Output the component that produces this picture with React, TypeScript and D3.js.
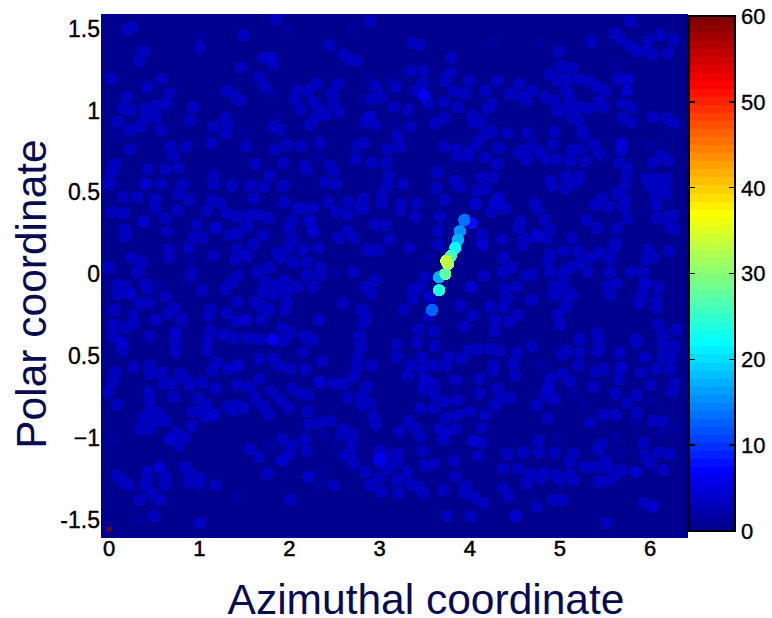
import React from 'react';
import * as d3 from 'd3';

// tick labels as printed on the figure (the lower 0.5 has lost its minus sign)
const xTicks = [0, 1, 2, 3, 4, 5, 6];
const yTicks = [1.5, 1, 0.5, 0, -0.5, -1, -1.5];
const yTickLabels = ['1.5', '1', '0.5', '0', '0.5', '\u22121', '-1.5'];
const colorTicks = [0, 10, 20, 30, 40, 50, 60];

// [azimuth, polar] of the spots, grouped by how many counts they hold
const faintCount = 1.5;
const faintSpots = [
  [1.00, 1.44], [1.52, 0.85], [1.86, 0.96], [1.80, 1.10], [0.09, 0.85], [1.97, 1.48], [2.70, 1.50], [3.11, 1.19],
  [2.89, 1.19], [2.82, 1.07], [3.17, 0.90], [2.32, 0.72], [4.76, 1.41], [4.25, 1.42], [5.63, 1.28], [6.02, 0.78],
  [5.50, 0.70], [0.90, 0.08], [0.86, -0.04], [0.55, -0.08], [2.52, 0.01], [3.54, 0.10], [0.05, -1.01], [1.77, -1.05],
  [1.42, -1.36], [0.34, -1.50], [2.38, -0.99], [2.49, -1.05], [2.34, -1.21], [2.34, -1.29], [4.80, -0.56], [5.15, -0.74],
  [5.26, -0.80], [6.02, -0.77], [5.85, -0.90], [6.26, -0.95], [6.11, -0.97], [4.98, -1.00], [5.61, -1.00], [5.68, -1.10],
];

const dimCount = 3;
const dimSpots = [
  [0.20, 1.49], [0.26, 1.51], [0.38, 1.36], [0.33, 1.30], [0.02, 1.19], [0.42, 1.14], [0.58, 1.19], [0.67, 1.10],
  [0.20, 1.08], [0.16, 1.01], [0.23, 1.00], [0.09, 0.93], [0.23, 0.88], [0.34, 0.90], [0.40, 1.01], [0.53, 1.03],
  [0.63, 1.04], [0.40, 0.95], [0.51, 0.96], [0.57, 0.88], [0.93, 1.02], [0.90, 0.94], [1.01, 1.38], [1.49, 1.46],
  [1.46, 1.26], [1.71, 1.32], [1.82, 1.28], [1.67, 1.20], [1.73, 1.14], [1.30, 1.12], [1.39, 1.09], [1.45, 1.06],
  [1.29, 0.95], [1.16, 0.90], [1.32, 0.90], [1.29, 0.86], [0.68, 0.78], [0.85, 0.78], [1.13, 0.80], [1.52, 0.78],
  [1.84, 0.76], [1.97, 0.79], [1.82, 0.90], [1.90, 0.88], [0.23, 0.76], [0.71, 0.72], [1.85, 1.56],
  [2.89, 1.54], [2.44, 1.40], [2.60, 1.34], [2.67, 1.31], [2.74, 1.30], [3.37, 1.41], [3.44, 1.40], [3.79, 1.32],
  [3.34, 1.24], [3.48, 1.24], [3.78, 1.23], [3.72, 1.18], [3.99, 1.18], [3.48, 1.16], [2.54, 1.16], [2.30, 1.16],
  [2.08, 1.12], [2.21, 1.12], [2.47, 1.10], [2.06, 1.07], [2.26, 1.05], [2.48, 1.04], [3.18, 1.14], [2.96, 1.14],
  [3.02, 1.08], [2.91, 1.07], [3.41, 1.12], [3.54, 1.04], [3.71, 1.05], [3.82, 1.12], [3.95, 1.10], [4.17, 1.12],
  [3.87, 1.02], [3.15, 1.02], [3.32, 1.00], [2.55, 0.99], [2.12, 1.00], [2.34, 1.00], [2.40, 0.97], [2.28, 0.95],
  [2.84, 0.93], [2.95, 0.91], [2.23, 0.91], [3.72, 0.95], [3.61, 0.92], [3.34, 0.90], [4.03, 0.97], [4.19, 1.01],
  [4.04, 0.93], [4.13, 0.93], [3.20, 0.84], [3.23, 0.78], [2.34, 0.80], [2.13, 0.78], [2.75, 0.78], [2.82, 0.80],
  [2.73, 0.70], [2.91, 0.68], [3.07, 0.68], [3.09, 0.76], [3.71, 0.78], [3.85, 0.76], [3.86, 0.72], [4.00, 0.75],
  [3.98, 0.72], [4.09, 0.80], [4.15, 0.85], [4.17, 0.71], [2.17, 0.66], [2.45, 0.66],
  [5.78, 1.54], [5.61, 1.47], [5.68, 1.43], [5.78, 1.39], [5.85, 1.36], [5.96, 1.36], [6.03, 1.34], [5.98, 1.42],
  [6.11, 1.46], [6.25, 1.43], [6.20, 1.35], [5.35, 1.42], [4.99, 1.36], [5.01, 1.27], [5.13, 1.26], [4.89, 1.22],
  [5.06, 1.19], [4.98, 1.18], [5.20, 1.19], [5.33, 1.18], [5.41, 1.14], [5.50, 1.12], [5.07, 1.12], [5.64, 1.19],
  [4.30, 1.18], [4.55, 1.16], [4.69, 1.12], [4.45, 1.10], [4.58, 1.08], [4.63, 1.06], [4.83, 1.08], [4.94, 1.06],
  [5.11, 1.08], [5.44, 1.06], [5.48, 1.02], [5.33, 1.01], [5.22, 1.02], [5.09, 1.02], [4.98, 0.99], [5.13, 0.96],
  [5.20, 0.94], [5.70, 1.04], [5.79, 1.02], [5.70, 0.95], [5.79, 0.93], [6.03, 0.96], [6.18, 0.95], [6.26, 0.92],
  [4.24, 1.04], [5.25, 0.88], [5.26, 0.85], [4.94, 0.87], [4.92, 0.79], [5.37, 0.79], [5.43, 0.74], [4.42, 0.86],
  [4.64, 0.86], [4.25, 0.87], [4.32, 0.77], [4.69, 0.78], [4.59, 0.75], [4.54, 0.74], [4.63, 0.70], [4.78, 0.74],
  [4.83, 0.70], [4.96, 0.70], [5.13, 0.75], [5.21, 0.76], [5.28, 0.69], [5.11, 0.69], [5.65, 0.68], [5.74, 0.65],
  [6.13, 0.72], [6.03, 0.68], [6.20, 0.69], [4.30, 0.67],
  [4.89, 0.57], [4.91, 0.54], [5.07, 0.60], [5.11, 0.55], [5.06, 0.52], [5.22, 0.60], [5.18, 0.56], [5.74, 0.60],
  [5.72, 0.54], [5.96, 0.58], [6.07, 0.58], [6.18, 0.58], [6.02, 0.53], [6.15, 0.53], [6.05, 0.48], [6.18, 0.49],
  [6.07, 0.42], [5.63, 0.49], [5.72, 0.46], [5.46, 0.46], [5.39, 0.42], [5.54, 0.41], [5.70, 0.41], [5.74, 0.34],
  [4.72, 0.43], [4.75, 0.40], [4.83, 0.33], [4.89, 0.27], [4.85, 0.22], [5.29, 0.33], [5.41, 0.28], [5.63, 0.28],
  [6.07, 0.34], [6.20, 0.35], [6.25, 0.36], [6.22, 0.30], [6.26, 0.27], [5.13, 0.22], [5.62, 0.19], [5.59, 0.15],
  [4.89, 0.12], [5.04, 0.14], [5.20, 0.14], [5.43, 0.13], [5.33, 0.10], [5.22, 0.07], [5.11, 0.04], [4.87, 0.07],
  [4.89, 0.01], [5.04, 0.01], [5.30, 0.01], [5.55, 0.09], [5.55, 0.01], [5.79, 0.01], [5.93, 0.01], [5.98, 0.15],
  [6.03, 0.10], [5.96, 0.09], [6.21, 0.14], [6.09, -0.08], [5.62, -0.06], [5.52, -0.08], [5.55, -0.13], [5.04, -0.02],
  [5.04, -0.08], [4.94, -0.08], [4.93, -0.13], [5.06, -0.13], [5.13, -0.13], [5.91, -0.13], [5.88, -0.18], [6.07, -0.16],
  [6.07, -0.21], [5.07, -0.20], [4.98, -0.25], [5.00, -0.31], [6.09, -0.31], [6.29, -0.34], [6.14, -0.38], [5.41, -0.36],
  [5.43, -0.40], [5.22, -0.40], [5.84, -0.40], [5.85, -0.42], [6.14, -0.44], [6.26, -0.44], [5.22, -0.48], [5.43, -0.46],
  [5.66, -0.48], [5.07, -0.47], [4.69, -0.44], [5.94, -0.51], [6.14, -0.51], [4.69, 0.00], [4.69, -0.16],
  [0.07, 0.67], [0.03, 0.62], [0.00, 0.55], [0.43, 0.64], [0.62, 0.64], [0.77, 0.65], [0.58, 0.55], [0.82, 0.55],
  [0.77, 0.49], [0.89, 0.45], [0.51, 0.46], [0.51, 0.40], [0.31, 0.47], [0.15, 0.47], [0.03, 0.38], [0.16, 0.37],
  [0.62, 0.34], [0.76, 0.39], [0.64, 0.26], [0.18, 0.27], [0.18, 0.23], [1.16, 0.60], [1.16, 0.55], [1.36, 0.54],
  [1.14, 0.45], [1.23, 0.43], [1.08, 0.39], [1.31, 0.37], [1.42, 0.35], [1.56, 0.36], [1.67, 0.36], [1.77, 0.34],
  [1.60, 0.46], [1.71, 0.53], [1.78, 0.60], [1.93, 0.54], [1.93, 0.68], [1.62, 0.67], [1.56, 0.54], [1.94, 0.44],
  [2.08, 0.40], [2.03, 0.32], [1.99, 0.28], [0.97, 0.30], [1.03, 0.22], [0.94, 0.22], [0.88, 0.16], [1.34, 0.24],
  [1.43, 0.25], [1.53, 0.29], [1.71, 0.24], [1.60, 0.18], [0.66, 0.15], [0.66, 0.10], [1.16, 0.11], [1.43, 0.15],
  [1.53, 0.11], [1.40, 0.09], [0.25, 0.10], [0.36, 0.07], [0.31, 0.01], [0.00, 0.04], [0.92, 0.00], [1.43, -0.01],
  [1.36, -0.05], [1.29, -0.09], [1.03, -0.10], [1.64, 0.01], [1.78, 0.04], [1.73, -0.05], [1.86, 0.13], [1.90, 0.10],
  [2.03, 0.21], [1.99, 0.16], [2.04, 0.07], [1.95, -0.04], [1.86, -0.07], [1.71, -0.11], [1.82, -0.13], [1.97, -0.10],
  [2.08, -0.08], [0.10, -0.07], [0.18, -0.08], [0.09, -0.12], [0.40, -0.06], [0.42, -0.09], [0.63, -0.14], [0.34, -0.18],
  [0.44, -0.18], [0.05, -0.22], [0.27, -0.25], [0.51, -0.28], [0.27, -0.30], [0.05, -0.31], [0.18, -0.33], [0.73, -0.21],
  [0.66, -0.24], [0.81, -0.28], [1.12, -0.22], [1.10, -0.26], [1.30, -0.24], [1.42, -0.17], [1.40, -0.29], [1.62, -0.17],
  [1.69, -0.20], [1.77, -0.22], [1.69, -0.28], [1.95, -0.22], [1.97, -0.17], [0.45, -0.38], [0.05, -0.38], [0.73, -0.42],
  [1.12, -0.35], [1.10, -0.41], [1.27, -0.37], [1.38, -0.39], [1.53, -0.39], [1.66, -0.40], [1.92, -0.33], [2.01, -0.36],
  [1.93, -0.41],
  [2.18, 0.64], [2.39, 0.56], [2.49, 0.63], [2.52, 0.55], [2.43, 0.44], [2.65, 0.44], [2.51, 0.38], [2.82, 0.46],
  [2.78, 0.40], [2.64, 0.36], [2.14, 0.40], [2.26, 0.40], [2.65, 0.26], [2.71, 0.22], [2.54, 0.22], [2.32, 0.16],
  [2.15, 0.15], [2.19, 0.07], [2.34, 0.04], [2.19, -0.01], [2.34, -0.01], [2.71, 0.01], [2.26, -0.08], [2.86, 0.15],
  [2.85, -0.08], [2.59, -0.18], [2.33, -0.28], [2.80, -0.22], [2.82, -0.30], [2.78, -0.38], [2.78, -0.44], [2.17, -0.38],
  [2.25, -0.40],
  [3.10, 0.60], [3.08, 0.54], [3.26, 0.55], [3.64, 0.62], [3.63, 0.52], [3.84, 0.57], [3.89, 0.53], [4.13, 0.59],
  [4.26, 0.59], [4.08, 0.51], [4.17, 0.52], [2.82, 0.40], [3.03, 0.49], [3.03, 0.43], [3.23, 0.43], [3.23, 0.39],
  [3.41, 0.43], [3.72, 0.45], [4.24, 0.38], [4.39, 0.40], [4.72, 0.43], [3.39, 0.35], [3.67, 0.35], [4.56, 0.32],
  [4.54, 0.28], [2.95, 0.30], [3.06, 0.30], [3.65, 0.26], [3.11, 0.21], [4.13, 0.24], [4.36, 0.21], [4.61, 0.21],
  [4.59, 0.18], [4.74, 0.24], [3.65, 0.18], [2.89, 0.14], [2.99, 0.15], [3.33, 0.16], [4.37, 0.10], [4.47, 0.04],
  [4.37, 0.01], [4.63, -0.01], [4.15, -0.01], [3.50, -0.02], [3.45, -0.08], [2.95, -0.04], [2.86, -0.08], [2.91, -0.12],
  [3.37, -0.10], [3.37, -0.15], [4.39, -0.09], [4.52, -0.08], [4.41, -0.15], [4.67, -0.16], [3.89, -0.19], [4.22, -0.20],
  [4.37, -0.20], [3.27, -0.22], [3.54, -0.26], [4.03, -0.25], [4.54, -0.25], [4.44, -0.29], [4.28, -0.28], [2.85, -0.26],
  [3.93, -0.32], [4.28, -0.35], [3.43, -0.34], [3.60, -0.35],
  [0.15, -0.47], [0.27, -0.57], [0.07, -0.60], [0.04, -0.66], [-0.01, -0.72], [0.09, -0.80], [0.45, -0.56], [0.45, -0.61],
  [0.58, -0.60], [0.60, -0.67], [0.79, -0.61], [0.70, -0.67], [0.90, -0.68], [0.84, -0.64], [1.03, -0.66], [1.14, -0.59],
  [1.19, -0.54], [1.18, -0.70], [0.74, -0.48], [1.09, -0.47], [1.32, -0.58], [1.43, -0.68], [1.56, -0.69], [1.67, -0.64],
  [1.66, -0.52], [1.82, -0.52], [1.88, -0.56], [2.01, -0.58], [0.44, -0.72], [0.45, -0.77], [0.72, -0.75], [0.99, -0.76],
  [0.45, -0.83], [0.55, -0.85], [0.38, -0.88], [0.62, -0.90], [0.51, -0.90], [0.34, -0.95], [0.45, -0.95], [0.92, -0.93],
  [0.92, -0.84], [1.01, -0.84], [1.08, -0.80], [1.06, -0.87], [1.32, -0.81], [1.42, -0.80], [1.49, -0.82], [1.38, -0.83],
  [1.62, -0.76], [1.71, -0.81], [1.77, -0.86], [1.80, -0.72], [1.90, -0.77], [1.99, -0.82], [2.03, -0.70], [0.84, -1.00],
  [0.75, -0.97], [0.77, -1.05], [1.56, -1.07], [1.66, -1.12], [1.92, -1.01], [2.03, -1.05], [1.99, -1.10], [1.75, -1.22],
  [0.84, -1.18], [0.90, -1.22], [1.01, -1.25], [0.88, -1.27], [0.99, -1.28], [1.18, -1.29], [0.42, -1.21], [0.42, -1.26],
  [0.62, -1.24], [0.62, -1.29], [0.40, -1.29], [0.09, -1.23], [0.16, -1.27], [0.21, -1.29], [0.47, -1.34], [0.56, -1.38],
  [0.34, -1.38], [2.01, -1.38], [0.50, -1.48], [1.01, -1.52],
  [2.23, -0.41], [2.36, -0.53], [2.15, -0.48], [2.17, -0.58], [2.49, -0.67], [2.60, -0.67], [2.71, -0.63], [2.80, -0.44],
  [2.76, -0.51], [2.75, -0.56], [2.91, -0.56], [3.19, -0.43], [3.19, -0.51], [3.41, -0.42], [3.61, -0.44], [3.47, -0.51],
  [3.47, -0.58], [3.60, -0.56], [3.34, -0.56], [3.31, -0.62], [3.48, -0.71], [3.60, -0.67], [2.86, -0.69], [2.80, -0.74],
  [2.65, -0.76], [2.80, -0.80], [2.89, -0.79], [2.93, -0.87], [2.96, -0.92], [2.21, -0.74], [2.14, -0.73], [2.20, -0.84],
  [2.45, -0.90], [2.34, -0.91], [2.21, -0.92], [2.17, -1.01], [2.19, -1.08], [2.58, -0.98], [2.69, -0.98], [2.60, -0.95],
  [2.69, -1.03], [2.61, -1.11], [2.69, -1.10], [2.71, -1.16], [2.84, -1.21], [3.00, -1.08], [3.09, -1.11], [3.21, -1.10],
  [3.19, -1.15], [3.09, -1.19], [2.49, -1.29], [2.89, -1.29], [3.02, -1.33], [2.99, -1.25], [3.21, -1.34], [3.19, -1.26],
  [3.30, -1.21], [3.34, -1.28], [3.43, -1.30], [3.49, -1.34], [3.50, -1.17], [3.60, -1.16], [3.22, -0.96], [3.32, -0.90],
  [3.39, -0.94], [3.45, -0.82], [3.45, -0.99], [3.48, -1.08], [3.60, -0.82], [3.84, -0.95], [3.71, -1.01], [3.67, -0.95],
  [3.74, -0.88], [3.86, -0.86], [4.00, -0.84], [4.17, -0.86], [3.72, -0.78], [3.86, -0.77], [3.61, -0.74], [3.84, -0.65],
  [3.76, -0.51], [3.74, -0.56], [3.91, -0.52], [3.98, -0.47], [4.09, -0.46], [4.24, -0.46], [4.26, -0.56], [4.11, -0.64],
  [4.11, -0.73], [4.28, -0.80], [4.13, -0.94], [4.13, -1.03], [4.09, -1.11], [3.83, -1.14], [3.84, -1.24], [3.70, -1.32],
  [3.96, -1.30], [3.95, -1.34], [4.04, -1.36], [4.15, -1.40], [3.75, -1.48], [4.01, -1.48],
  [4.52, -0.48], [4.48, -0.55], [4.50, -0.62], [4.33, -0.47], [4.26, -0.59], [4.30, -0.70], [4.35, -0.75], [4.45, -0.76],
  [4.28, -0.80], [5.02, -0.49], [5.22, -0.48], [5.42, -0.47], [5.66, -0.48], [5.20, -0.56], [5.02, -0.61], [5.11, -0.66],
  [4.89, -0.64], [4.83, -0.74], [4.93, -0.77], [4.74, -0.80], [5.48, -0.58], [5.40, -0.60], [5.37, -0.69], [5.65, -0.64],
  [5.94, -0.51], [6.14, -0.51], [6.24, -0.51], [6.22, -0.58], [6.07, -0.58], [5.90, -0.60], [6.00, -0.68], [5.85, -0.74],
  [5.62, -0.73], [6.27, -0.67], [6.24, -0.72], [5.74, -0.79], [5.85, -0.85], [5.48, -0.86], [5.62, -0.86], [4.86, -0.88],
  [5.33, -0.91], [6.03, -0.90], [6.14, -0.90], [4.76, -1.02], [5.46, -1.04], [5.42, -1.07], [5.93, -1.03], [4.41, -1.10],
  [4.59, -1.09], [4.76, -1.09], [4.94, -1.09], [5.15, -1.10], [5.94, -1.11], [6.09, -1.09], [6.22, -1.10], [5.50, -1.14],
  [5.11, -1.15], [6.00, -1.16], [4.37, -1.19], [4.54, -1.19], [5.28, -1.18], [5.40, -1.18], [5.52, -1.18], [6.14, -1.20],
  [4.67, -1.22], [4.82, -1.22], [4.96, -1.23], [5.11, -1.23], [5.68, -1.20], [5.61, -1.23], [4.63, -1.28], [4.78, -1.25],
  [5.00, -1.26], [5.15, -1.26], [5.43, -1.27], [5.55, -1.26], [4.37, -1.31], [4.43, -1.36], [4.92, -1.38], [5.03, -1.38],
  [4.74, -1.42], [5.92, -1.40], [5.52, -1.52],
];

const midCount = 4.5;
const midSpots = [
  [2.23, 0.32], [2.26, 0.26], [5.75, 1.19], [5.74, 1.12], [5.68, 0.80], [5.68, 0.76], [0.40, 0.55], [0.38, 0.32],
  [1.18, 0.28], [0.23, -0.12], [1.51, -0.28], [0.74, -0.36], [0.14, -0.42], [2.89, 0.96], [1.79, 1.32], [4.74, 0.23],
  [5.94, -0.06], [4.06, 0.43], [4.28, 0.43], [4.32, 0.46], [4.14, 0.18], [3.56, -0.14], [4.01, -0.08], [1.43, -0.56],
  [1.16, -0.86], [0.68, -1.01], [1.92, -1.14], [0.56, -1.18], [2.34, -0.66], [3.50, -0.65], [3.00, -1.15], [2.21, -1.24],
  [3.72, -0.97], [4.04, -1.02], [4.87, -0.70], [5.68, -0.57], [5.84, -1.21], [4.51, -1.48], [6.03, -1.42],
];

const brightCount = 6;
const brightSpots = [[3.49, 1.09], [1.81, -0.40], [3.00, -1.13]];

// the bright streak through the middle of the map
const streakAzimuth = [3.94, 4.02, 3.89, 3.87, 3.84, 3.79, 3.73, 3.66, 3.66, 3.58, 3.76, 3.74];
const streakPolar = [0.33, 0.31, 0.26, 0.21, 0.16, 0.11, 0.00, -0.02, -0.10, -0.22, 0.06, 0.08];
const streakCounts = [14, 8, 15, 17, 22, 26, 28, 17, 24, 13, 31, 33];

// single dark red cell in the bottom corner
const hotCell = { azimuth: 0.0, polar: -1.56, count: 60 };

const spotAzimuthRadius = 0.068;
const spotPolarRadius = 0.038;

const jet = d3.scaleLinear<string>()
  .domain([0, 7 / 63, 23 / 63, 39 / 63, 55 / 63, 1])
  .range(['#00008f', '#0000ff', '#00ffff', '#ffff00', '#ff0000', '#800000'])
  .clamp(true);

// 64 flat colour levels, same as the colorbar
function countColor(c: number) {
  const level = Math.min(63, Math.floor((c / 60) * 64));
  return jet(level / 63);
}

export default function App() {
  const left = 101, right = 688, top = 14, bottom = 538;
  const x = d3.scaleLinear().domain([-0.09, 6.42]).range([left, right]);
  const y = d3.scaleLinear().domain([1.588, -1.613]).range([top, bottom]);
  const c = d3.scaleLinear().domain([0, 60]).range([531, 16]);
  const barLeft = 689, barRight = 735;
  const tickFont = 'Liberation Sans, Arial, sans-serif';

  const rx = x(spotAzimuthRadius) - x(0);
  const ry = y(0) - y(spotPolarRadius);

  const spots = [
    ...faintSpots.map(d => ({ a: d[0], p: d[1], v: faintCount })),
    ...dimSpots.map(d => ({ a: d[0], p: d[1], v: dimCount })),
    ...midSpots.map(d => ({ a: d[0], p: d[1], v: midCount })),
    ...brightSpots.map(d => ({ a: d[0], p: d[1], v: brightCount })),
    ...streakAzimuth.map((a, i) => ({ a, p: streakPolar[i], v: streakCounts[i] })),
  ].sort((m, n) => m.v - n.v);

  const levels = d3.range(64);

  return (
    <svg width={772} height={618} style={{ position: 'absolute', left: 0, top: 0, background: '#fff' }}>
      <defs>
        <clipPath id="plot"><rect x={left} y={top} width={right - left} height={bottom - top} /></clipPath>
      </defs>

      <rect x={left} y={top} width={right - left} height={bottom - top} fill={countColor(0)} />
      <g clipPath="url(#plot)" shapeRendering="crispEdges">
        {spots.map((d, i) => (
          <ellipse key={i} cx={x(d.a)} cy={y(d.p)} rx={rx} ry={ry} fill={countColor(d.v)} />
        ))}
        <rect x={x(hotCell.azimuth) - 2} y={y(hotCell.polar) - 2} width={4} height={4} fill={countColor(hotCell.count)} />
      </g>

      {/* colorbar */}
      <g shapeRendering="crispEdges">
        {levels.map(i => (
          <rect key={i} x={barLeft} width={barRight - barLeft}
            y={c(((i + 1) * 60) / 64)} height={c((i * 60) / 64) - c(((i + 1) * 60) / 64) + 0.5}
            fill={jet(i / 63)} />
        ))}
        <rect x={barLeft} y={c(60)} width={barRight - barLeft} height={c(0) - c(60)} fill="none" stroke="#000" strokeWidth={2} />
        {colorTicks.slice(1, -1).map(t => (
          <g key={t}>
            <line x1={barLeft} x2={barLeft + 6} y1={c(t)} y2={c(t)} stroke="#000" strokeWidth={1.5} />
            <line x1={barRight - 6} x2={barRight} y1={c(t)} y2={c(t)} stroke="#000" strokeWidth={1.5} />
          </g>
        ))}
      </g>
      {colorTicks.map(t => (
        <text key={t} x={741} y={c(t)} dy="0.36em" fontFamily={tickFont} fontSize={22} stroke="#000" strokeWidth={0.35}>{t}</text>
      ))}

      {/* tick labels, no axis lines on this one */}
      {xTicks.map(t => (
        <text key={t} x={x(t)} y={556} textAnchor="middle" fontFamily={tickFont} fontSize={22} stroke="#000" strokeWidth={0.5}>{t}</text>
      ))}
      {yTicks.map((t, i) => (
        <text key={t} x={100} y={y(t)} dy="0.36em" textAnchor="end" fontFamily={tickFont} fontSize={23} stroke="#000" strokeWidth={0.35}>{yTickLabels[i]}</text>
      ))}

      <text x={426} y={614} textAnchor="middle" fontFamily={tickFont} fontSize={42.5} fill="#0a0a50">Azimuthal coordinate</text>
      <text transform="translate(46,294) rotate(-90)" textAnchor="middle" fontFamily={tickFont} fontSize={42.5} fill="#0a0a50">Polar coordinate</text>
    </svg>
  );
}
